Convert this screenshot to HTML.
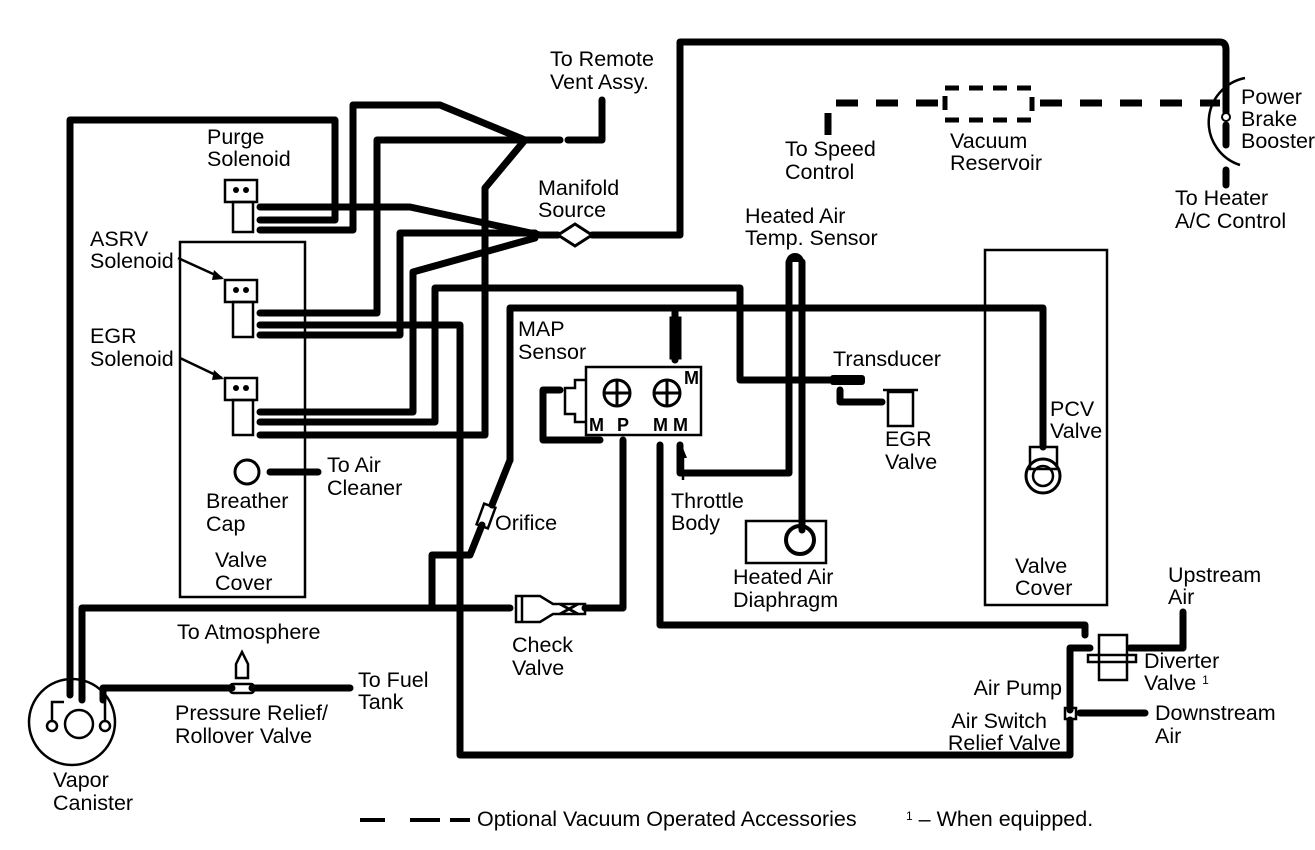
<!DOCTYPE html>
<html><head><meta charset="utf-8"><style>
html,body{margin:0;padding:0;background:#fff}
svg{display:block}
text{font-family:"Liberation Sans",Arial,sans-serif;font-size:21.5px;fill:#000}
</style></head><body>
<svg width="1315" height="850" viewBox="0 0 1315 850" xmlns="http://www.w3.org/2000/svg">
<g fill="none" stroke="#000" stroke-width="7" stroke-linejoin="round" stroke-linecap="round">
<path d="M592 235 H680 V42 H1220 Q1226 42 1226 50 V112"/>
<path d="M1226 125 V145"/>
<path d="M1226 170 V185"/>
<path d="M602 100 V140 H568"/>
<path d="M560 140 H525"/>
<path d="M260 230 H353 V105 H440 L525 140"/>
<path d="M70 695 V120 H335 V220 H260"/>
<path d="M260 207 H410 L540 235 H558"/>
<path d="M260 313 H377 V140 H525"/>
<path d="M525 140 L485 188 V435 H260"/>
<path d="M260 325 H460 V755 H1070 V720"/>
<path d="M260 335 H400 V233 H535"/>
<path d="M260 412 H413 V272 L535 238"/>
<path d="M260 422 H435 V288 H740 V380 H830"/>
<path d="M510 460 V308 H1043 V447"/>
<path d="M510 460 L492 505"/>
<path d="M482 525 L470 555 H432 V605"/>
<path d="M675 308 V360"/>
<path d="M802 262 V530"/>
<path d="M789 262 V473 H680 V445"/>
<path d="M560 390 H543 V440 H600"/>
<path d="M623 440 V608 H585"/>
<path d="M510 608 H82 V700"/>
<path d="M660 445 V625 H1085 V635"/>
<path d="M1090 648 H1070 V710"/>
<path d="M1130 648 H1183 V612"/>
<path d="M1080 713 H1145"/>
<path d="M103 700 V688 H232"/>
<path d="M252 688 H350"/>
<path d="M840 390 V402 H882"/>
<path d="M270 472 H318"/>
</g>
<g fill="none" stroke="#000" stroke-width="7" stroke-dasharray="22 18">
<path d="M828 135 V103 H945"/>
<path d="M1040 103 H1220"/>
</g>
<rect x="945" y="88" width="87" height="32" fill="none" stroke="#000" stroke-width="5" stroke-dasharray="14 10"/>
<g fill="none" stroke="#000" stroke-width="2.5">
<path d="M1245 78 A45 45 0 0 0 1240 165"/>
<rect x="180" y="242" width="125" height="355"/>
<rect x="985" y="250" width="122" height="355"/>
<rect x="746" y="521" width="80" height="42"/>
<circle cx="800" cy="540" r="14" stroke-width="4"/>
<circle cx="72" cy="722" r="43"/>
<circle cx="79" cy="724" r="14"/>
<circle cx="52" cy="726" r="5"/>
<circle cx="105" cy="726" r="5"/>
<path d="M52 721 V702 H64"/>
<path d="M105 721 V700"/>
<circle cx="247" cy="472" r="12" stroke-width="3"/>
<rect x="586" y="367" width="115" height="68"/>
<path d="M586 380 H575 V388 H565 V414 H575 V422 H586"/>
<circle cx="617" cy="393" r="13" stroke-width="3"/><path d="M604 393 H630 M617 380 V406" stroke-width="3"/>
<circle cx="667" cy="393" r="13" stroke-width="3"/><path d="M654 393 H680 M667 380 V406" stroke-width="3"/>
<rect x="671" y="318" width="9" height="40" stroke-width="3"/>
<rect x="225" y="180" width="32" height="22"/><rect x="233" y="202" width="20" height="30"/>
<rect x="225" y="280" width="32" height="22"/><rect x="233" y="302" width="20" height="35"/>
<rect x="225" y="378" width="32" height="22"/><rect x="233" y="400" width="20" height="35"/>
<path d="M516 596 H540 L553 604 H585 V614 H553 L540 622 H516 Z"/>
<path d="M522 596 V622"/>
<path d="M560 604 L578 614 M560 614 L578 604" stroke-width="3"/>
<rect x="1030" y="447" width="27" height="22"/>
<circle cx="1043" cy="476" r="17" stroke-width="3"/><circle cx="1043" cy="476" r="10"/>
<rect x="888" y="392" width="25" height="34"/><path d="M883 390 H918"/>
<rect x="1099" y="635" width="28" height="45"/>
<rect x="1088" y="655" width="48" height="7"/>
<rect x="1065" y="708" width="11" height="11"/>
<rect x="480" y="505" width="12" height="22" transform="rotate(20 486 516)"/>
<path d="M236 678 V664 L242 652 L248 664 V678 Z"/>
<rect x="230" y="684" width="24" height="9" rx="3"/>
</g>
<g fill="#000">
<circle cx="236" cy="190" r="3"/><circle cx="246" cy="190" r="3"/>
<circle cx="236" cy="290" r="3"/><circle cx="246" cy="290" r="3"/>
<circle cx="236" cy="388" r="3"/><circle cx="246" cy="388" r="3"/>
<path d="M786 262 A9 9 0 0 1 804 262 Z"/>
<rect x="830" y="375" width="35" height="10" rx="3"/>
<circle cx="1226" cy="117" r="4" fill="#fff" stroke="#000" stroke-width="2"/>
</g>
<path d="M558 235 L575 224 L592 235 L575 246 Z" fill="#fff" stroke="#000" stroke-width="3"/>
<g fill="none" stroke="#000" stroke-width="2.5">
<path d="M178 258 L222 278"/><path d="M180 358 L222 378"/>
<path d="M683 480 V452"/>
</g>
<g fill="#000"><path d="M224 279 L214 270 L212 280Z"/><path d="M224 379 L214 370 L212 380Z"/><path d="M683 448 L679 458 H687Z"/></g>
<path d="M360 820 H385 M410 820 H440 M450 820 H470" stroke="#000" stroke-width="4"/>
<text x="550" y="66">To Remote</text><text x="550" y="89">Vent Assy.</text>
<text x="207" y="144">Purge</text><text x="207" y="166">Solenoid</text>
<text x="90" y="246">ASRV</text><text x="90" y="268">Solenoid</text>
<text x="90" y="343">EGR</text><text x="90" y="366">Solenoid</text>
<text x="538" y="195">Manifold</text><text x="538" y="217">Source</text>
<text x="785" y="156">To Speed</text><text x="785" y="179">Control</text>
<text x="950" y="148">Vacuum</text><text x="950" y="170">Reservoir</text>
<text x="1241" y="104">Power</text><text x="1241" y="126">Brake</text><text x="1241" y="148">Booster</text>
<text x="1175" y="205">To Heater</text><text x="1175" y="228">A/C Control</text>
<text x="745" y="223">Heated Air</text><text x="745" y="245">Temp. Sensor</text>
<text x="518" y="336">MAP</text><text x="518" y="359">Sensor</text>
<text x="833" y="366">Transducer</text>
<text x="885" y="446">EGR</text><text x="885" y="469">Valve</text>
<text x="1050" y="416">PCV</text><text x="1050" y="438">Valve</text>
<text x="327" y="472">To Air</text><text x="327" y="495">Cleaner</text>
<text x="206" y="508">Breather</text><text x="206" y="531">Cap</text>
<text x="215" y="567">Valve</text><text x="215" y="590">Cover</text>
<text x="495" y="530">Orifice</text>
<text x="671" y="508">Throttle</text><text x="671" y="530">Body</text>
<text x="733" y="584">Heated Air</text><text x="733" y="607">Diaphragm</text>
<text x="1015" y="573">Valve</text><text x="1015" y="595">Cover</text>
<text x="1168" y="582">Upstream</text><text x="1168" y="604">Air</text>
<text x="1144" y="668">Diverter</text><text x="1144" y="690">Valve <tspan font-size="12" dy="-6">1</tspan></text>
<text x="1062" y="695" text-anchor="end">Air Pump</text>
<text x="1047" y="728" text-anchor="end">Air Switch</text><text x="1061" y="750" text-anchor="end">Relief Valve</text>
<text x="1155" y="720">Downstream</text><text x="1155" y="743">Air</text>
<text x="512" y="652">Check</text><text x="512" y="675">Valve</text>
<text x="177" y="639">To Atmosphere</text>
<text x="358" y="687">To Fuel</text><text x="358" y="709">Tank</text>
<text x="175" y="720">Pressure Relief/</text><text x="175" y="743">Rollover Valve</text>
<text x="53" y="787">Vapor</text><text x="53" y="810">Canister</text>
<text x="477" y="826">Optional Vacuum Operated Accessories</text>
<text x="906" y="826"><tspan font-size="12" dy="-6">1</tspan><tspan dy="6"> –  When equipped.</tspan></text>
<g font-weight="bold">
<text x="589" y="431" style="font-size:18px">M</text><text x="617" y="431" style="font-size:18px">P</text>
<text x="653" y="431" style="font-size:18px">M</text><text x="673" y="431" style="font-size:18px">M</text>
<text x="684" y="384" style="font-size:18px">M</text>
</g>
</svg>
</body></html>
